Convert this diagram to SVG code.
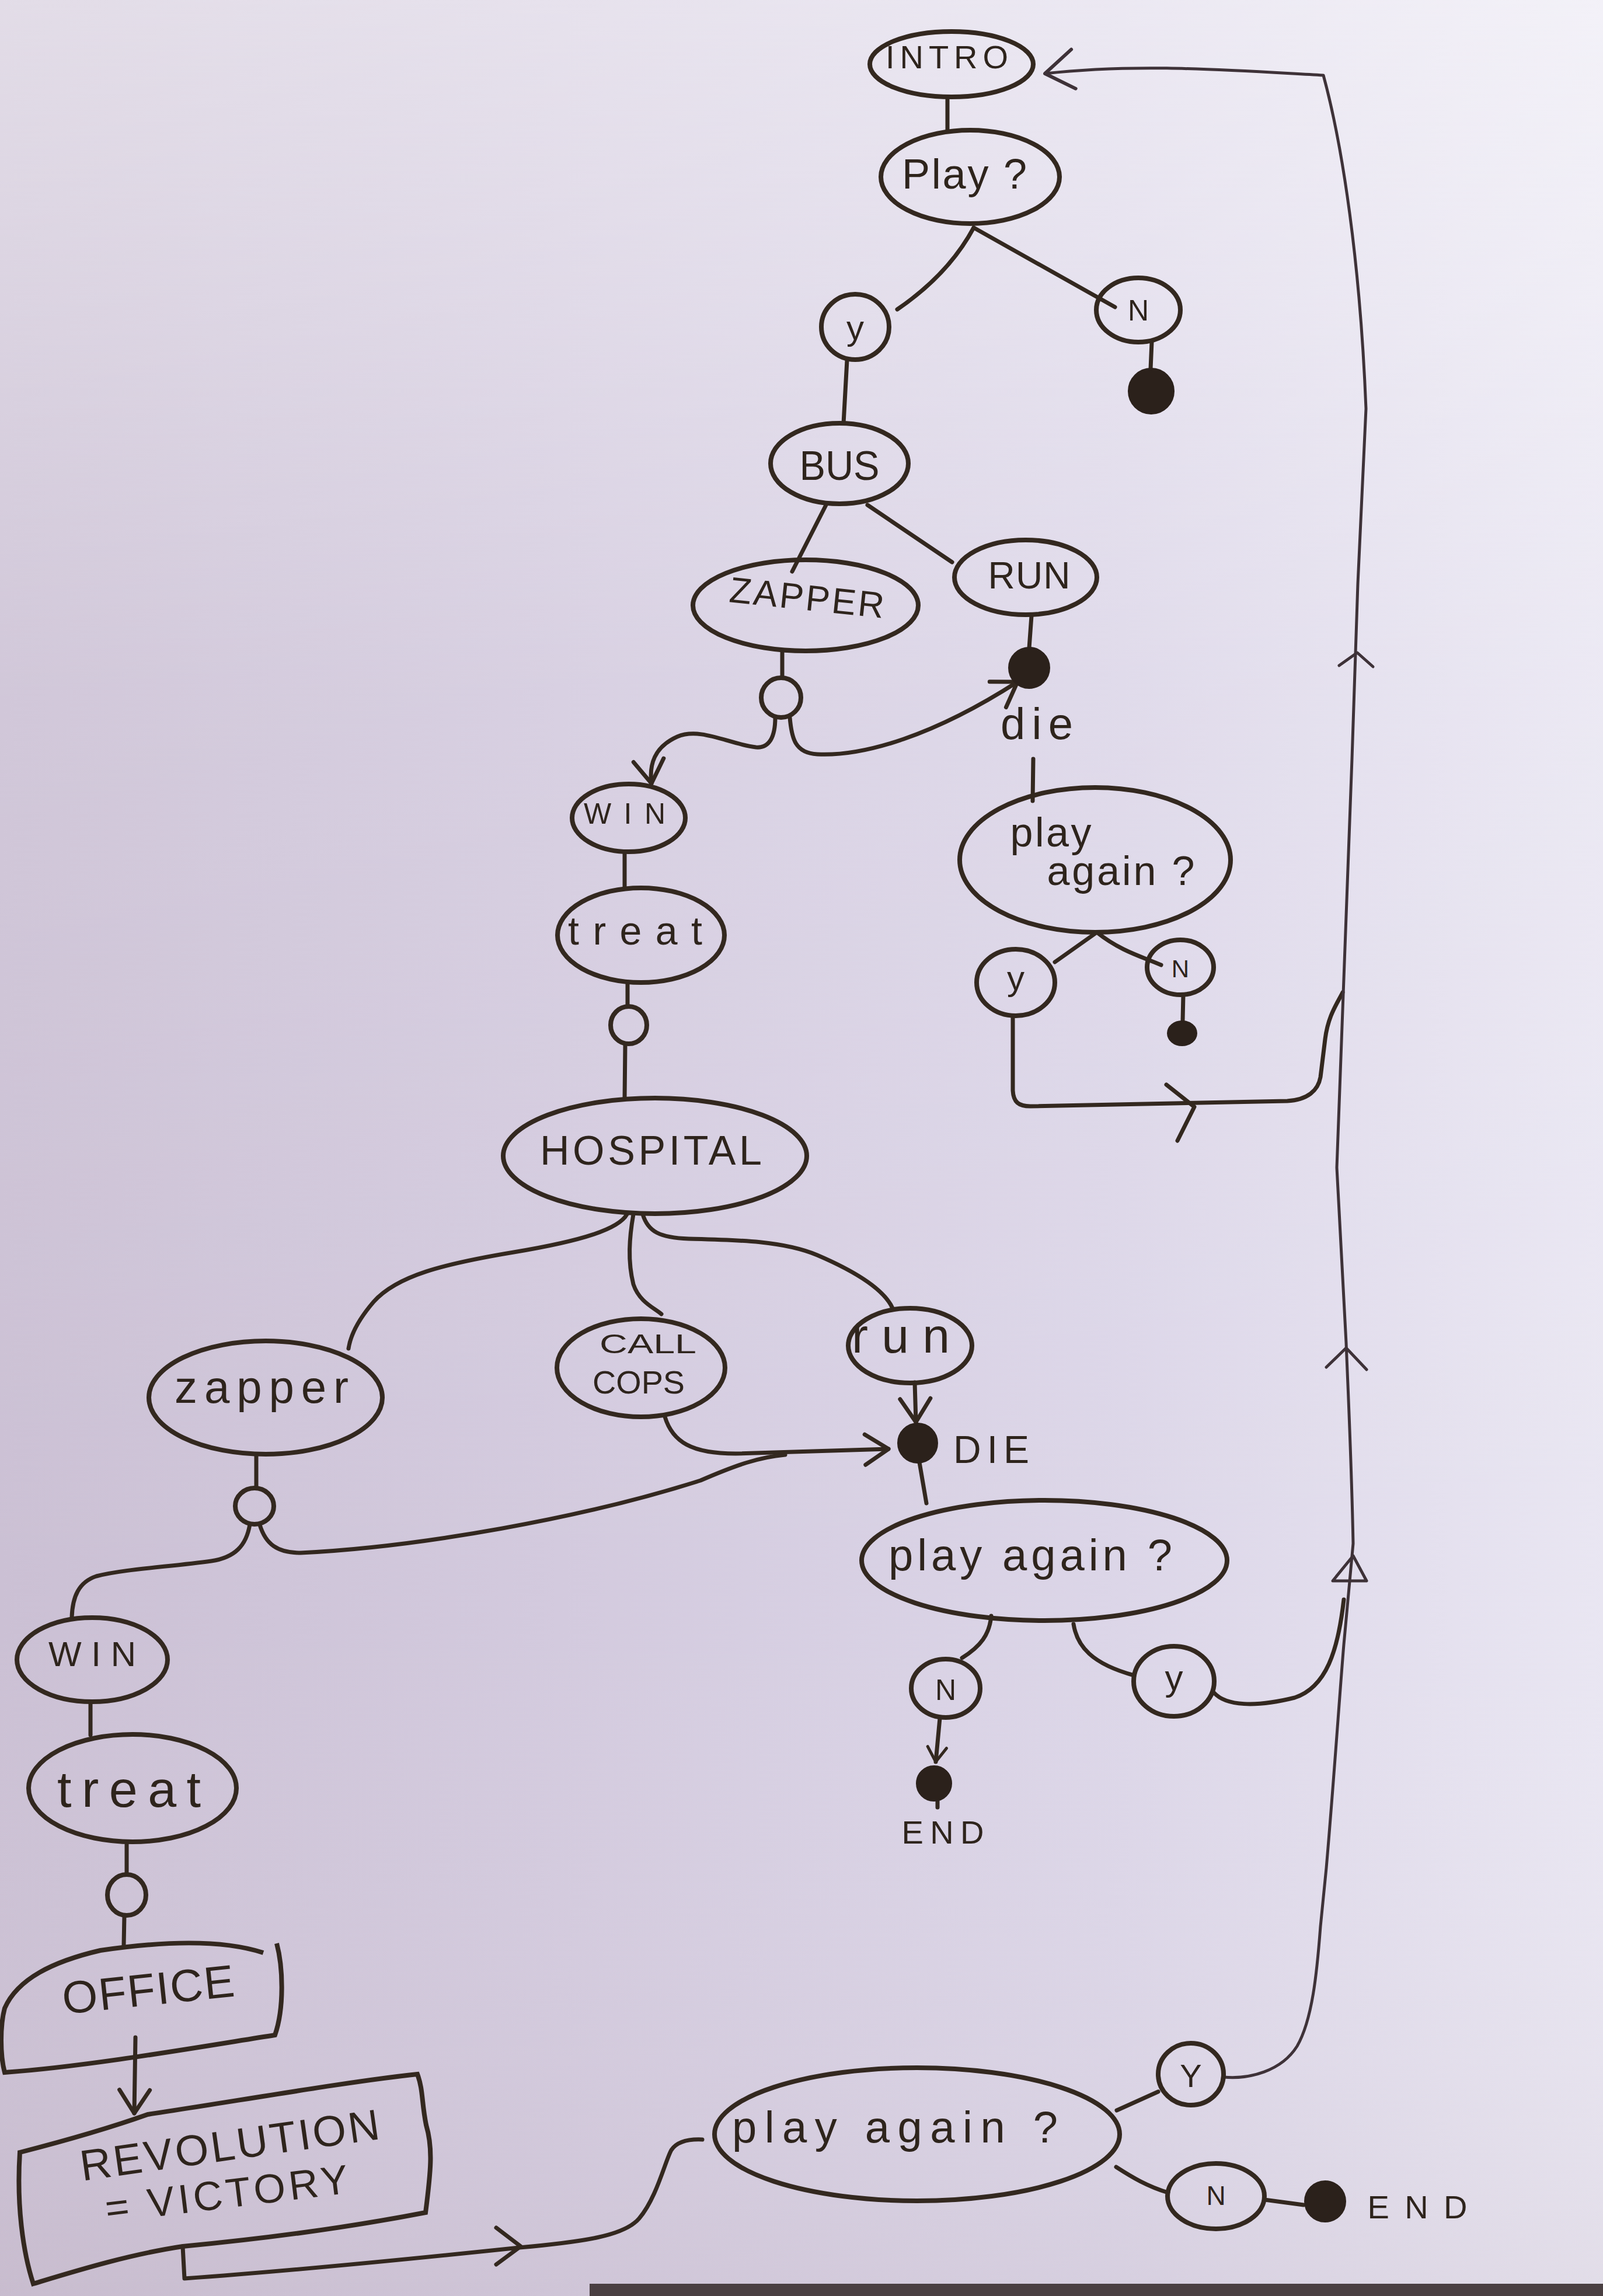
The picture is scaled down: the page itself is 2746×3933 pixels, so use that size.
<svg xmlns="http://www.w3.org/2000/svg" width="2746" height="3933" viewBox="0 0 2746 3933">
<defs>
<linearGradient id="paper" x1="0" y1="0" x2="1" y2="0">
<stop offset="0" stop-color="#cbc0d4"/>
<stop offset="0.35" stop-color="#d3cade"/>
<stop offset="0.7" stop-color="#dcd6e8"/>
<stop offset="1" stop-color="#e9e6f2"/>
</linearGradient>
<linearGradient id="glow" x1="0" y1="0" x2="0" y2="1">
<stop offset="0" stop-color="#ffffff" stop-opacity="0.45"/>
<stop offset="0.3" stop-color="#ffffff" stop-opacity="0.12"/>
<stop offset="0.7" stop-color="#ffffff" stop-opacity="0"/>
<stop offset="1" stop-color="#b8a8b0" stop-opacity="0.15"/>
</linearGradient>
<marker id="ah" viewBox="-20 -20 40 40" refX="0" refY="0" markerWidth="80" markerHeight="80" markerUnits="userSpaceOnUse" orient="auto" overflow="visible">
<path d="M -20 -13 L 0 0 L -20 13" fill="none" stroke="#33281f" stroke-width="3.5" stroke-linecap="round" stroke-linejoin="round"/>
</marker>
<marker id="ahs" viewBox="-20 -20 40 40" refX="0" refY="0" markerWidth="50" markerHeight="50" markerUnits="userSpaceOnUse" orient="auto" overflow="visible">
<path d="M -20 -13 L 0 0 L -20 13" fill="none" stroke="#33281f" stroke-width="4" stroke-linecap="round" stroke-linejoin="round"/>
</marker>
<marker id="ahl" viewBox="-20 -20 40 40" refX="0" refY="0" markerWidth="90" markerHeight="90" markerUnits="userSpaceOnUse" orient="auto" overflow="visible">
<path d="M -22 -14 L 0 0 L -22 16" fill="none" stroke="#3e3238" stroke-width="2.6" stroke-linecap="round" stroke-linejoin="round"/>
</marker>
</defs>
<style>
.nd{fill:none;stroke:#33281f;stroke-width:8;}
.dot{fill:#2b211b;stroke:#2b211b;stroke-width:4;}
.ln{fill:none;stroke:#33281f;stroke-width:7;stroke-linecap:round;stroke-linejoin:round;}
.thin{fill:none;stroke:#3e3238;stroke-width:5;stroke-linecap:round;stroke-linejoin:round;}
.t{font-family:"Liberation Sans",Arial,sans-serif;fill:#2e241c;text-anchor:middle;}
</style>
<rect x="0" y="0" width="2746" height="3933" fill="url(#paper)"/>
<rect x="0" y="0" width="2746" height="3933" fill="url(#glow)"/>
<rect x="1010" y="3912" width="1736" height="21" fill="#4a3f42"/>

<g id="connectors">
<path class="ln" d="M 1623 167 L 1623 222"/>
<path class="ln" d="M 1668 390 Q 1625 470 1537 530"/>
<path class="ln" d="M 1668 390 L 1910 526"/>
<path class="ln" d="M 1973 586 L 1971 632"/>
<path class="ln" d="M 1451 617 L 1445 725"/>
<path class="ln" d="M 1415 865 L 1357 979"/>
<path class="ln" d="M 1486 865 L 1631 963"/>
<path class="ln" d="M 1767 1055 L 1763 1110"/>
<path class="ln" d="M 1340 1115 L 1340 1160"/>
<path class="ln" d="M 1328 1229 C 1328 1262, 1318 1282, 1295 1280 C 1250 1275, 1200 1245, 1160 1262 C 1120 1280, 1112 1310, 1116 1342" marker-end="url(#ah)"/>
<path class="ln" d="M 1353 1229 C 1356 1265, 1362 1290, 1400 1292 C 1480 1296, 1600 1260, 1743 1168" marker-end="url(#ah)"/>
<path class="ln" d="M 1070 1460 L 1070 1522"/>
<path class="ln" d="M 1075 1684 L 1075 1724"/>
<path class="ln" d="M 1071 1789 L 1070 1882"/>
<path class="ln" d="M 1770 1300 L 1769 1372"/>
<path class="ln" d="M 1879 1597 L 1807 1648"/>
<path class="ln" d="M 1879 1597 C 1920 1630, 1960 1640, 1989 1653"/>
<path class="ln" d="M 2027 1704 L 2026 1748"/>
<path class="ln" d="M 1735 1740 L 1735 1868 C 1736 1888, 1745 1895, 1765 1895 L 2205 1886 C 2240 1884, 2258 1868, 2262 1845 L 2270 1780 C 2275 1740, 2290 1720, 2300 1700"/>
<path class="ln" d="M 1998 1858 L 2046 1896 L 2017 1954"/>
<path class="thin" d="M 2096 3558 C 2140 3562, 2195 3548, 2222 3505 C 2248 3460, 2256 3380, 2262 3300 L 2272 3200 C 2285 3050, 2295 2900, 2302 2817 L 2318 2644 C 2315 2500, 2310 2400, 2306 2300 L 2290 2000 C 2300 1700, 2310 1450, 2316 1300 L 2326 1000 L 2340 700 C 2330 450, 2300 250, 2267 129 C 2100 120, 1950 108, 1790 126" marker-end="url(#ahl)"/>
<path class="thin" d="M 2294 1140 L 2325 1118 L 2352 1142"/>
<path class="thin" d="M 2272 2342 L 2306 2309 L 2341 2346"/>
<path class="thin" d="M 2283 2708 L 2318 2665 L 2341 2708 Z"/>
<path class="ln" d="M 2080 2900 C 2100 2922, 2150 2925, 2218 2908 C 2272 2890, 2292 2828, 2302 2740"/>
<path class="ln" d="M 1074 2080 C 1060 2105, 1000 2125, 880 2145 C 760 2165, 680 2185, 640 2230 C 610 2265, 600 2290, 597 2310"/>
<path class="ln" d="M 1085 2080 C 1078 2120, 1075 2160, 1085 2200 C 1095 2230, 1120 2240, 1133 2251"/>
<path class="ln" d="M 1101 2080 C 1110 2110, 1130 2120, 1180 2122 C 1260 2124, 1340 2125, 1400 2150 C 1470 2180, 1515 2210, 1529 2241"/>
<path class="ln" d="M 1567 2368 L 1569 2436" marker-end="url(#ah)"/>
<path class="ln" d="M 1139 2427 C 1152 2470, 1185 2490, 1260 2490 L 1522 2482" marker-end="url(#ah)"/>
<path class="ln" d="M 439 2491 L 439 2549"/>
<path class="ln" d="M 445 2612 C 455 2645, 475 2660, 515 2660 C 720 2650, 1000 2600, 1200 2536 C 1260 2510, 1300 2496, 1345 2492"/>
<path class="ln" d="M 1575 2505 L 1587 2575"/>
<path class="ln" d="M 1698 2768 C 1695 2800, 1680 2820, 1648 2840"/>
<path class="ln" d="M 1839 2782 C 1845 2820, 1870 2850, 1943 2870"/>
<path class="ln" d="M 1610 2943 L 1603 3018" marker-end="url(#ahs)"/>
<path class="ln" d="M 1606 3084 L 1606 3096"/>
<path class="ln" d="M 428 2611 C 422 2648, 402 2668, 362 2674 C 290 2684, 210 2688, 165 2700 C 135 2710, 124 2735, 123 2771"/>
<path class="ln" d="M 155 2915 L 155 2972"/>
<path class="ln" d="M 217 3155 L 217 3211"/>
<path class="ln" d="M 213 3281 L 212 3333"/>
<path class="ln" d="M 232 3490 L 230 3620" marker-end="url(#ah)"/>
<path class="ln" d="M 313 3848 L 316 3903 C 500 3890, 700 3870, 890 3850 C 1000 3840, 1070 3830, 1095 3800 C 1125 3765, 1140 3700, 1150 3683 C 1160 3668, 1180 3664, 1203 3665"/>
<path class="ln" d="M 850 3816 L 892 3848 L 850 3879"/>
<path class="ln" d="M 1913 3615 L 1984 3583"/>
<path class="ln" d="M 1912 3712 C 1940 3730, 1965 3745, 2001 3756"/>
<path class="ln" d="M 2166 3768 L 2233 3777"/>
</g>

<g id="n-intro"><ellipse class="nd" cx="1630" cy="110" rx="140" ry="56"/><text class="t" x="1622" y="117" font-size="56" textLength="210" lengthAdjust="spacing">INTRO</text></g>
<g id="n-play"><ellipse class="nd" cx="1662" cy="303" rx="153" ry="80"/><text class="t" x="1652" y="323" font-size="72" textLength="214" lengthAdjust="spacing">Play ?</text></g>
<g id="n-y1"><ellipse class="nd" cx="1465" cy="560" rx="58" ry="56"/><text class="t" x="1465" y="582" font-size="60">y</text></g>
<g id="n-n1"><ellipse class="nd" cx="1950" cy="531" rx="72" ry="55"/><text class="t" x="1950" y="549" font-size="50">N</text></g>
<g id="n-end1"><circle class="dot" cx="1972" cy="670" r="38"/></g>
<g id="n-bus"><ellipse class="nd" cx="1438" cy="794" rx="118" ry="69"/><text class="t" x="1438" y="822" font-size="70" textLength="137" lengthAdjust="spacingAndGlyphs">BUS</text></g>
<g id="n-zapper1"><ellipse class="nd" cx="1380" cy="1037" rx="193" ry="78"/><text class="t" x="1382" y="1045" font-size="62" textLength="266" lengthAdjust="spacing" transform="rotate(6 1382 1025)">ZAPPER</text></g>
<g id="n-run1"><ellipse class="nd" cx="1757" cy="989" rx="122" ry="64"/><text class="t" x="1763" y="1008" font-size="64" textLength="141" lengthAdjust="spacing">RUN</text></g>
<g id="n-die1"><circle class="dot" cx="1763" cy="1144" r="34"/><text class="t" x="1776" y="1266" font-size="76" textLength="124" lengthAdjust="spacing">die</text></g>
<g id="n-c1"><ellipse class="nd" cx="1338" cy="1195" rx="34" ry="34"/></g>
<g id="n-win1"><ellipse class="nd" cx="1077" cy="1401" rx="97" ry="58"/><text class="t" x="1070" y="1411" font-size="50" textLength="140" lengthAdjust="spacing">WIN</text></g>
<g id="n-treat1"><ellipse class="nd" cx="1098" cy="1602" rx="143" ry="81"/><text class="t" x="1088" y="1618" font-size="68" textLength="230" lengthAdjust="spacing">treat</text></g>
<g id="n-c2"><ellipse class="nd" cx="1077" cy="1756" rx="31" ry="32"/></g>
<g id="n-hospital"><ellipse class="nd" cx="1122" cy="1980" rx="260" ry="99"/><text class="t" x="1115" y="1995" font-size="70" textLength="380" lengthAdjust="spacing">HOSPITAL</text></g>
<g id="n-again1"><ellipse class="nd" cx="1876" cy="1473" rx="232" ry="124"/><text class="t" x="1800" y="1450" font-size="70" textLength="139" lengthAdjust="spacing">play</text><text class="t" x="1920" y="1516" font-size="70" textLength="253" lengthAdjust="spacing">again ?</text></g>
<g id="n-y2"><ellipse class="nd" cx="1740" cy="1683" rx="67" ry="57"/><text class="t" x="1740" y="1696" font-size="60">y</text></g>
<g id="n-n2"><ellipse class="nd" cx="2022" cy="1657" rx="57" ry="47"/><text class="t" x="2022" y="1674" font-size="42">N</text></g>
<g id="n-end2"><ellipse class="dot" cx="2025" cy="1770" rx="24" ry="20"/></g>
<g id="n-zapper2"><ellipse class="nd" cx="455" cy="2394" rx="200" ry="97"/><text class="t" x="448" y="2403" font-size="78" textLength="298" lengthAdjust="spacing">zapper</text></g>
<g id="n-callcops"><ellipse class="nd" cx="1098" cy="2343" rx="144" ry="84"/><text class="t" x="1110" y="2318" font-size="46" textLength="166" lengthAdjust="spacingAndGlyphs">CALL</text><text class="t" x="1094" y="2387" font-size="56" textLength="158" lengthAdjust="spacingAndGlyphs">COPS</text></g>
<g id="n-run2"><ellipse class="nd" cx="1559" cy="2305" rx="106" ry="64"/><text class="t" x="1543" y="2317" font-size="84" textLength="168" lengthAdjust="spacing">run</text></g>
<g id="n-die2"><circle class="dot" cx="1572" cy="2472" r="33"/><text class="t" x="1698" y="2506" font-size="66" textLength="130" lengthAdjust="spacing">DIE</text></g>
<g id="n-again2"><ellipse class="nd" cx="1789" cy="2673" rx="313" ry="103"/><text class="t" x="1765" y="2690" font-size="76" textLength="486" lengthAdjust="spacing">play again ?</text></g>
<g id="n-n3"><ellipse class="nd" cx="1620" cy="2892" rx="59" ry="50"/><text class="t" x="1620" y="2912" font-size="50">N</text></g>
<g id="n-y3"><ellipse class="nd" cx="2011" cy="2880" rx="69" ry="60"/><text class="t" x="2011" y="2895" font-size="62">y</text></g>
<g id="n-end3"><circle class="dot" cx="1600" cy="3055" r="29"/><text class="t" x="1615" y="3158" font-size="56" textLength="141" lengthAdjust="spacing">END</text></g>
<g id="n-c3"><ellipse class="nd" cx="436" cy="2580" rx="33" ry="31"/></g>
<g id="n-win2"><ellipse class="nd" cx="158" cy="2843" rx="129" ry="72"/><text class="t" x="158" y="2854" font-size="60" textLength="150" lengthAdjust="spacing">WIN</text></g>
<g id="n-treat2"><ellipse class="nd" cx="227" cy="3063" rx="178" ry="92"/><text class="t" x="221" y="3095" font-size="88" textLength="246" lengthAdjust="spacing">treat</text></g>
<g id="n-c4"><ellipse class="nd" cx="217" cy="3246" rx="33" ry="35"/></g>
<g id="n-office"><path class="nd" d="M 474 3329 C 485 3370, 487 3440, 471 3486 C 350 3505, 150 3540, 8 3550 C 0 3520, 0 3470, 8 3440 C 30 3390, 90 3360, 172 3341 C 280 3325, 380 3322, 451 3345"/><text class="t" x="254" y="3435" font-size="78" textLength="296" lengthAdjust="spacing" transform="rotate(-6 254 3410)">OFFICE</text></g>
<g id="n-revolution"><path class="nd" d="M 34 3687 C 100 3670, 180 3648, 253 3622 C 400 3600, 600 3565, 715 3553 C 725 3580, 722 3600, 730 3640 C 742 3680, 738 3720, 729 3790 C 600 3815, 450 3835, 313 3848 C 220 3862, 130 3890, 57 3912 C 40 3860, 28 3780, 34 3687 Z"/><text class="t" x="393" y="3700" font-size="74" textLength="517" lengthAdjust="spacing" transform="rotate(-8 393 3672)">REVOLUTION</text><text class="t" x="388" y="3782" font-size="70" textLength="419" lengthAdjust="spacing" transform="rotate(-7 388 3755)">= VICTORY</text></g>
<g id="n-again3"><ellipse class="nd" cx="1571" cy="3656" rx="347" ry="114"/><text class="t" x="1533" y="3670" font-size="76" textLength="558" lengthAdjust="spacing">play  again ?</text></g>
<g id="n-y4"><ellipse class="nd" cx="2040" cy="3553" rx="56" ry="53"/><text class="t" x="2040" y="3575" font-size="56">Y</text></g>
<g id="n-n4"><ellipse class="nd" cx="2083" cy="3762" rx="83" ry="56"/><text class="t" x="2083" y="3777" font-size="46">N</text></g>
<g id="n-end4"><circle class="dot" cx="2270" cy="3771" r="34"/><text class="t" x="2428" y="3800" font-size="56" textLength="171" lengthAdjust="spacing">END</text></g>
</svg>
